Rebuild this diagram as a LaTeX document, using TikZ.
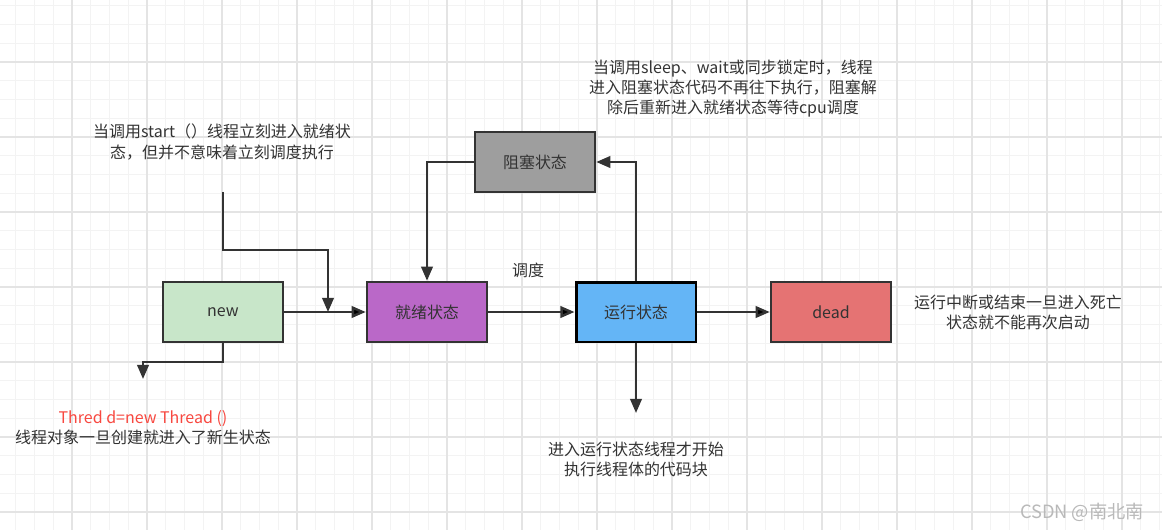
\documentclass[tikz,border=0pt]{standalone}
\usepackage{fontspec}
\setmainfont{Noto Sans CJK SC}
\usetikzlibrary{arrows.meta}

\definecolor{ink}{RGB}{51,51,51}
\definecolor{gridminor}{RGB}{243,243,243}
\definecolor{gridmajor}{RGB}{228,228,228}
\definecolor{newfill}{RGB}{200,230,201}
\definecolor{readyfill}{RGB}{186,104,200}
\definecolor{runfill}{RGB}{100,181,246}
\definecolor{blockfill}{RGB}{158,158,158}
\definecolor{deadfill}{RGB}{229,115,115}
\definecolor{notered}{RGB}{248,72,64}
\definecolor{mark}{RGB}{185,185,185}

\begin{document}
\begin{tikzpicture}[
        x=0.02cm, y=-0.02cm,
        font=\fontsize{9.1}{11.4}\selectfont,
        state/.style={rectangle, draw=ink, line width=1.4pt, minimum width=2.4cm, minimum height=1.2cm, text=ink, inner sep=0pt},
        flow/.style={draw=ink, line width=1.4pt, -{Triangle[length=8pt,width=6.5pt]}},
        note/.style={text=ink, align=center, inner sep=0pt},
    ]

    % grid background
    \fill[white] (0,0) rectangle (1162,530);
    \useasboundingbox (0,0) rectangle (1162,530);
    \begin{scope}
    \clip (0,0) rectangle (1162,530);
    \foreach \i in {1,...,62}
        \draw[gridminor, line width=0.6pt] (\i*18.75-3,0) -- (\i*18.75-3,530);
    \foreach \j in {0,...,28}
        \draw[gridminor, line width=0.6pt] (0,\j*18.75+5.75) -- (1162,\j*18.75+5.75);
    \foreach \i in {1,...,15}
        \draw[gridmajor, line width=0.7pt] (\i*75-3,0) -- (\i*75-3,530);
    \foreach \j in {1,...,7}
        \draw[gridmajor, line width=0.7pt] (0,\j*75-13) -- (1162,\j*75-13);
    \end{scope}

    \node[state, fill=newfill] (new) at (223,312) {new};
    \node[state, fill=readyfill] (ready) at (427,312) {就绪状态};
    \node[state, fill=runfill, draw=black, line width=1.7pt] (run) at (636,312) {运行状态};
    \node[state, fill=blockfill] (block) at (535,162) {阻塞状态};
    \node[state, fill=deadfill] (dead) at (831,312) {dead};

    \coordinate (startnote) at (223,192);
    \coordinate (merge) at (328,312);
    \coordinate (newend) at (143,379);
    \coordinate (runend) at (636,413);

    \path[flow]
    (new) edge (ready)
    (ready) edge (run)
    (run) edge (dead)
    ;
    \draw[flow] (startnote) -- ++(0,58) -| (merge);
    \draw[flow] (new.south) -- ++(0,19) -| (newend);
    \draw[flow] (run.north) |- (block.east);
    \draw[flow] (block.west) -| (ready.north);
    \draw[flow] (run.south) -- (runend);

    \node[note] (startlbl) at (222,142) {当调用start（）线程立刻进入就绪状\\态，但并不意味着立刻调度执行};
    \node[note] (schedlbl) at (528,270) {调度};
    \node[note] (blocklbl) at (733,89) {当调用sleep、wait或同步锁定时，线程\\进入阻塞状态代码不再往下执行，阻塞解\\除后重新进入就绪状态等待cpu调度};
    \node[note] (deadlbl) at (1018,312) {运行中断或结束一旦进入死亡\\状态就不能再次启动};
    \node[note] (newlbl) at (143,428) {\textcolor{notered}{Thred d=new Thread ()}\\线程对象一旦创建就进入了新生状态};
    \node[note] (runlbl) at (636,459) {进入运行状态线程才开始\\执行线程体的代码块};
    \node[text=mark, inner sep=0pt, font=\fontsize{10.4}{12}\selectfont] (watermark) at (1082,512) {CSDN @南北南};
\end{tikzpicture}
\end{document}
